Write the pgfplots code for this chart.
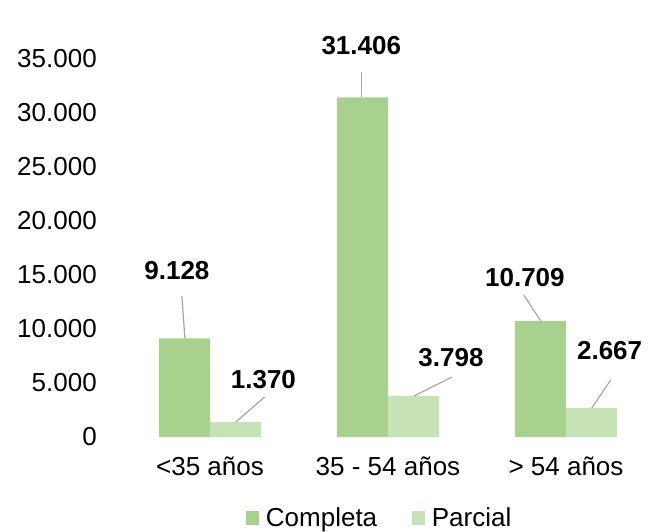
\documentclass[border=0pt]{standalone}
\usepackage{pgfplots}
\pgfplotsset{compat=1.18}
\usepackage{fontspec}
\setmainfont{Liberation Sans}
\definecolor{completa}{HTML}{A9D18E}
\definecolor{parcial}{HTML}{C8E2B8}
\definecolor{leader}{HTML}{A6A6A6}
\begin{document}
\begin{tikzpicture}
\begin{axis}[
  scale only axis, width=400.5pt, height=308.25pt,
  xmin=-0.5, xmax=2.5, ymin=0, ymax=38000,
  ybar=0pt, bar width=38.25pt,
  axis line style={draw=none},
  major tick length=0pt,
  xtick={0,1,2},
  xticklabels={{<35 años},{35 - 54 años},{> 54 años}},
  ytick={0,5000,10000,15000,20000,25000,30000,35000},
  scaled y ticks=false,
  /pgf/number format/1000 sep={.},
  /pgf/number format/assume math mode=true,
  ticklabel style={font=\fontsize{19.5}{22}\selectfont},
  yticklabel style={anchor=east, inner sep=0pt, xshift=-18pt},
  xticklabel style={anchor=north, inner sep=0pt, yshift=-15pt},
  clip=false,
  legend style={at={(0.485,-0.197)}, anchor=center, draw=none,
    legend columns=2, font=\fontsize{19.5}{22}\selectfont,
    /tikz/every even column/.append style={column sep=24pt}},
  legend image code/.code={\fill[#1] (0pt,-5pt) rectangle (10pt,5pt); \path (0pt,0pt) -- (13pt,0pt);},
]
\addplot[fill=completa, draw=none] coordinates {(0,9128) (1,31406) (2,10709)};
\addplot[fill=parcial, draw=none] coordinates {(0,1370) (1,3798) (2,2667)};
\legend{Completa, Parcial}
\begin{scope}[every node/.style={font=\bfseries\fontsize{19.5}{22}\selectfont}]
\node at (axis cs:-0.186,15434) {9.128};
\draw[leader, line width=0.9pt] (axis cs:-0.158,13031) -- (axis cs:-0.141,9128);
\node at (axis cs:0.30,5270) {1.370};
\draw[leader, line width=0.9pt] (axis cs:0.307,3700) -- (axis cs:0.144,1370);
\node at (axis cs:0.850,36229) {31.406};
\draw[leader, line width=0.9pt] (axis cs:0.850,33733) -- (axis cs:0.850,31406);
\node at (axis cs:1.354,7301) {3.798};
\draw[leader, line width=0.9pt] (axis cs:1.360,5545) -- (axis cs:1.147,3798);
\node at (axis cs:1.769,14787) {10.709};
\draw[leader, line width=0.9pt] (axis cs:1.763,13124) -- (axis cs:1.859,10709);
\node at (axis cs:2.245,7948) {2.667};
\draw[leader, line width=0.9pt] (axis cs:2.251,5268) -- (axis cs:2.144,2667);
\end{scope}
\end{axis}
\pgfresetboundingbox
\path[use as bounding box] ([shift={(-90.75pt,-70.5pt)}]current axis.south west) rectangle ([shift={(0pt,19.5pt)}]current axis.north east);
\end{tikzpicture}
\end{document}
